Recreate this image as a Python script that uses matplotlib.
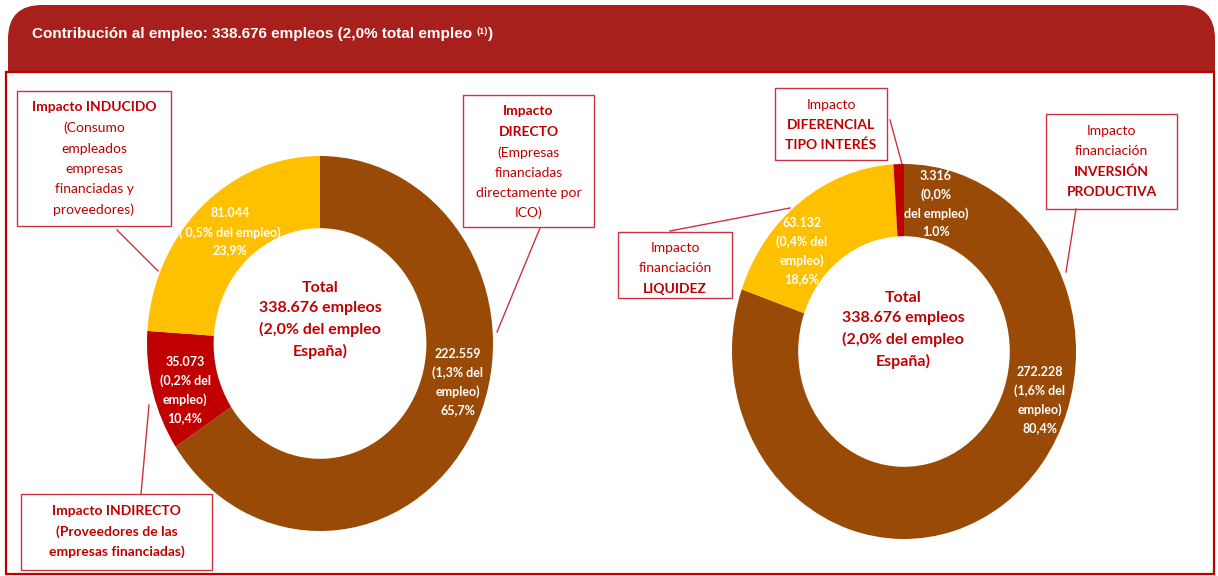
import matplotlib
matplotlib.use("Agg")
import matplotlib.pyplot as plt
from matplotlib.patches import FancyBboxPatch, Rectangle

# Data
left_labels = ["Impacto DIRECTO", "Impacto INDIRECTO", "Impacto INDUCIDO"]
left_values = [222559, 35073, 81044]
left_colors = ["#994A06", "#C00000", "#FFC000"]
left_texts = [
    "222.559\n(1,3% del\nempleo)\n65,7%",
    "35.073\n(0,2% del\nempleo)\n10,4%",
    "81.044\n( 0,5% del empleo)\n23,9%",
]

right_labels = ["Impacto financiación INVERSIÓN PRODUCTIVA",
                "Impacto financiación LIQUIDEZ",
                "Impacto DIFERENCIAL TIPO INTERÉS"]
right_values = [272228, 63132, 3316]
right_colors = ["#994A06", "#FFC000", "#C00000"]
right_texts = [
    "272.228\n(1,6% del\nempleo)\n80,4%",
    "63.132\n(0,4% del\nempleo)\n18,6%",
    "3.316\n(0,0%\ndel empleo)\n1.0%",
]

total_text = "Total\n338.676 empleos\n(2,0% del empleo\nEspaña)"
header_text = "Contribución al empleo: 338.676 empleos (2,0% total empleo "

W, H = 1218, 576
RED = "#C00000"
BOXRED = "#CC3340"
FONT = ["Lato", "DejaVu Sans"]
HFONT = ["Liberation Sans Narrow", "Liberation Sans"]

fig = plt.figure(figsize=(W / 100, H / 100), dpi=100)

# background: header + frame
bg = fig.add_axes([0, 0, 1, 1])
bg.set_xlim(0, W)
bg.set_ylim(H, 0)
bg.axis("off")
bg.add_patch(FancyBboxPatch((8, 5), 1207, 110,
                            boxstyle="round,pad=0,rounding_size=34",
                            facecolor="#A8201C", edgecolor="none"))
bg.add_patch(Rectangle((6, 72), 1208, 502, facecolor="white",
                       edgecolor=RED, linewidth=1.6))


def donut(rect, values, colors):
    ax = fig.add_axes(rect)
    ax.pie(values, colors=colors, startangle=90, counterclock=False,
           radius=1, wedgeprops=dict(width=0.385, edgecolor="none"))
    ax.set_aspect("auto")
    ax.set_xlim(-1, 1)
    ax.set_ylim(-1, 1)
    ax.patch.set_visible(False)
    return ax


donut([147 / W, (H - 531) / H, 346 / W, 375 / H], left_values, left_colors)
donut([732 / W, (H - 539) / H, 344 / W, 375 / H], right_values, right_colors)

# overlay for labels
ov = fig.add_axes([0, 0, 1, 1])
ov.set_xlim(0, W)
ov.set_ylim(H, 0)
ov.axis("off")
ov.patch.set_visible(False)

# header text
renderer = fig.canvas.get_renderer()
ht = ov.text(32, 34, header_text, color="white", fontsize=11, fontweight="bold",
             family=HFONT, va="center", ha="left")
bb = ht.get_window_extent(renderer)
sup = fig.text(bb.x1 / W, (H - 31) / H, "(1)", color="white", fontsize=6.5,
               fontweight="bold", family=HFONT, va="center", ha="left")
bb2 = sup.get_window_extent(renderer)
fig.text(bb2.x1 / W, (H - 34) / H, ")", color="white", fontsize=11, fontweight="bold",
         family=HFONT, va="center", ha="left")

# ring labels
left_pos = [(458, 382), (185, 390), (230, 232)]
right_pos = [(1040, 400), (802, 251), (936, 204)]
for (x, y), t in zip(left_pos, left_texts):
    ov.text(x, y, t, color="white", fontsize=9, fontweight="bold", family=FONT,
            ha="center", va="center", linespacing=1.6)
for (x, y), t in zip(right_pos, right_texts):
    ov.text(x, y, t, color="white", fontsize=9, fontweight="bold", family=FONT,
            ha="center", va="center", linespacing=1.6)

# centre totals
for x, y in [(320, 320), (903, 330)]:
    ov.text(x, y, total_text, color=RED, fontsize=11.5, fontweight="bold", family=FONT,
            ha="center", va="center", linespacing=1.55)


def box(x0, y0, x1, y1, lines):
    ov.add_patch(Rectangle((x0, y0), x1 - x0, y1 - y0, facecolor="white",
                           edgecolor=BOXRED, linewidth=1.0))
    cx = (x0 + x1) / 2
    for y, s, bold in lines:
        ov.text(cx, y, s, color=RED, fontsize=10, family=FONT,
                fontweight="bold" if bold else "normal", ha="center", va="center")


def leader(p, q):
    ov.plot([p[0], q[0]], [p[1], q[1]], color=BOXRED, linewidth=1.0)


# left donut boxes
box(17, 91, 171, 226, [(107, "Impacto INDUCIDO", True), (128, "(Consumo", False),
                       (149, "empleados", False), (169, "empresas", False),
                       (189, "financiadas y", False), (210, "proveedores)", False)])
leader((117, 230), (158, 271))
box(463, 95, 594, 227, [(111, "Impacto", True), (132, "DIRECTO", True),
                        (153, "(Empresas", False), (173, "financiadas", False),
                        (193, "directamente por", False), (213, "ICO)", False)])
leader((540, 228), (497, 332))
box(21, 494, 212, 570, [(511, "Impacto INDIRECTO", True),
                        (532, "(Proveedores de las", True),
                        (552, "empresas financiadas)", True)])
leader((149, 405), (141, 494))

# right donut boxes
box(775, 88, 887, 160, [(105, "Impacto", False), (125, "DIFERENCIAL", True),
                        (145, "TIPO INTERÉS", True)])
leader((890, 120), (902, 164))
box(1046, 114, 1177, 209, [(131, "Impacto", False), (151, "financiación", False),
                           (172, "INVERSIÓN", True), (192, "PRODUCTIVA", True)])
leader((1076, 209), (1066, 272))
box(618, 232, 732, 298, [(248, "Impacto", False), (268, "financiación", False),
                         (289, "LIQUIDEZ", True)])
leader((670, 231), (790, 208))

fig.savefig("out.png", dpi=100)
